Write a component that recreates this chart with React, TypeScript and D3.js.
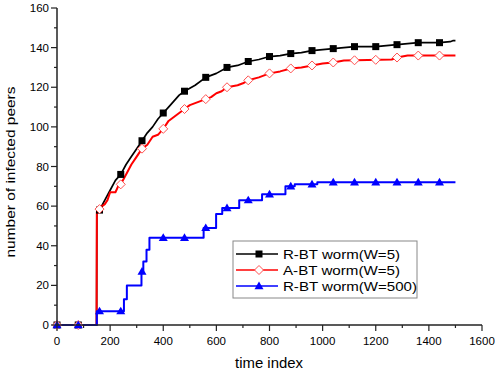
import React from 'react';
import * as d3 from 'd3';

// series: [time index, infected peers]
const rbtW5: [number, number][] = [
  [0, 0], [149, 0], [150, 57], [160, 58], [180, 63], [200, 68], [220, 73], [240, 76], [260, 81],
  [280, 85], [300, 89], [320, 93], [340, 97], [360, 100], [380, 104], [400, 107],
  [420, 110], [440, 113], [460, 116], [480, 118], [520, 121], [560, 125], [600, 127],
  [640, 130], [680, 131], [720, 133], [760, 134], [800, 135.5], [840, 136], [880, 137],
  [920, 137.5], [960, 138.5], [1000, 139], [1040, 139.5], [1080, 140], [1120, 140.5],
  [1200, 140.5], [1240, 141], [1280, 141.5], [1320, 142], [1360, 142.5], [1440, 142.5],
  [1480, 143], [1490, 143.5], [1500, 143.5],
];

const abtW5: [number, number][] = [
  [0, 0], [149, 0], [150, 57], [170, 60], [180, 61], [190, 63], [200, 67], [220, 67], [230, 70],
  [240, 71], [260, 76], [280, 81], [300, 85], [320, 89], [340, 91], [360, 95], [380, 96],
  [400, 99], [420, 103], [440, 105], [460, 107], [480, 109], [500, 111], [520, 112],
  [540, 113], [560, 114], [580, 115], [600, 117], [620, 118], [640, 120], [680, 121],
  [700, 122], [720, 123.5], [760, 125], [800, 127], [840, 128], [880, 129.5], [920, 130],
  [960, 131], [1000, 132], [1040, 132.5], [1080, 133.5], [1260, 134], [1280, 135],
  [1320, 136], [1500, 136],
];

const rbtW500: [number, number][] = [
  [0, 0], [150, 7], [252, 13], [263, 20], [318, 27], [325, 32], [337, 38], [348, 44],
  [552, 49], [599, 56], [622, 59], [686, 63], [772, 66], [860, 70], [895, 71],
  [980, 72], [1500, 72],
];

const xTicks = [0, 200, 400, 600, 800, 1000, 1200, 1400, 1600];
const yTicks = [0, 20, 40, 60, 80, 100, 120, 140, 160];
const markerStep = 80;

const series = [
  { name: 'R-BT worm(W=5)', data: rbtW5, color: '#000000', marker: 'square', step: false, len: 117 },
  { name: 'A-BT worm(W=5)', data: abtW5, color: '#ff0000', marker: 'diamond', step: false, len: 117 },
  { name: 'R-BT worm(W=500)', data: rbtW500, color: '#0000ff', marker: 'triangle', step: true, len: 134 },
];

const W = 495;
const H = 377;
const margin = { left: 57, right: 13, top: 8, bottom: 52 };

function valueAt(data: [number, number][], x: number) {
  // linear lookup between points (step series have duplicated corners anyway)
  let v = data[0][1];
  for (const [px, py] of data) {
    if (px <= x) v = py;
  }
  return v;
}

function Marker({ type, x, y, color }: { type: string; x: number; y: number; color: string }) {
  if (type === 'square') {
    return <rect x={x - 3.5} y={y - 3.5} width={7} height={7} fill={color} />;
  }
  if (type === 'diamond') {
    const r = 4.5;
    return (
      <path
        d={`M${x},${y - r}L${x + r},${y}L${x},${y + r}L${x - r},${y}Z`}
        fill="#fff"
        stroke="#ff5050"
        strokeWidth={1}
      />
    );
  }
  const r = 4.5;
  return (
    <path
      d={`M${x},${y - r}L${x + r},${y + r * 0.7}L${x - r},${y + r * 0.7}Z`}
      fill={color}
    />
  );
}

export default function App() {
  const x = d3.scaleLinear().domain([0, 1600]).range([margin.left, W - margin.right]);
  const y = d3.scaleLinear().domain([0, 160]).range([H - margin.bottom, margin.top]);
  const lineStep = d3
    .line<[number, number]>()
    .x(d => x(d[0]))
    .y(d => y(d[1]))
    .curve(d3.curveStepAfter);
  const lineLin = d3
    .line<[number, number]>()
    .x(d => x(d[0]))
    .y(d => y(d[1]));

  const markerXs = d3.range(0, 1500, markerStep);
  const yMinor = d3.range(10, 160, 20);
  const xMinor = d3.range(100, 1600, 200);
  const font = 'Liberation Sans, Arial, sans-serif';
  const axisY = H - margin.bottom;

  const lgX = 233;
  const lgY = 241;

  return (
    <svg width={W} height={H} style={{ position: 'absolute', left: 0, top: 0, background: '#fff' }} fontFamily={font}>
      {series.map(s => (
        <path
          key={s.name}
          d={(s.step ? lineStep(s.data) : lineLin(s.data)) || ''}
          fill="none"
          stroke={s.color}
          strokeWidth={s.marker === 'square' ? 1.7 : 2}
          strokeLinejoin="round"
        />
      ))}
      {series.map(s =>
        markerXs.map(mx => {
          const lin = !s.step && mx > 150;
          const i = d3.bisector((d: [number, number]) => d[0]).left(s.data, mx);
          let v = valueAt(s.data, mx);
          if (lin && i > 0 && i < s.data.length) {
            const a = s.data[i - 1];
            const b = s.data[i];
            v = b[0] === mx ? b[1] : a[1] + ((b[1] - a[1]) * (mx - a[0])) / (b[0] - a[0]);
          }
          return <Marker key={s.name + mx} type={s.marker} x={x(mx)} y={y(v)} color={s.color} />;
        })
      )}

      {/* axes */}
      <line x1={margin.left} x2={margin.left} y1={margin.top} y2={axisY} stroke="#222" strokeWidth={1.5} />
      <line x1={margin.left} x2={W - margin.right} y1={axisY} y2={axisY} stroke="#222" strokeWidth={1.5} />
      {yTicks.map(t => (
        <g key={'y' + t}>
          <line x1={margin.left - 6} x2={margin.left} y1={y(t)} y2={y(t)} stroke="#222" strokeWidth={1.2} />
          <text x={margin.left - 8} y={y(t)} dy="0.35em" textAnchor="end" fontSize={11.5}>{t}</text>
        </g>
      ))}
      {yMinor.map(t => (
        <line key={'ym' + t} x1={margin.left - 3} x2={margin.left} y1={y(t)} y2={y(t)} stroke="#222" strokeWidth={1.2} />
      ))}
      {xTicks.map(t => (
        <g key={'x' + t}>
          <line x1={x(t)} x2={x(t)} y1={axisY} y2={axisY + 6} stroke="#222" strokeWidth={1.2} />
          <text x={x(t)} y={axisY + 20} textAnchor="middle" fontSize={11.5}>{t}</text>
        </g>
      ))}
      {xMinor.map(t => (
        <line key={'xm' + t} x1={x(t)} x2={x(t)} y1={axisY} y2={axisY + 3} stroke="#222" strokeWidth={1.2} />
      ))}
      <text x={269} y={H - 9} textAnchor="middle" fontSize={14} textLength={68} lengthAdjust="spacingAndGlyphs">time index</text>
      <text
        transform={`translate(15,172) rotate(-90)`}
        textAnchor="middle"
        fontSize={13}
        textLength={171}
        lengthAdjust="spacingAndGlyphs"
      >
        number of infected peers
      </text>

      {/* legend */}
      <rect x={lgX} y={lgY} width={184} height={57} fill="#fff" stroke="#888" strokeWidth={1} />
      {series.map((s, i) => {
        const ry = lgY + 13 + i * 16;
        return (
          <g key={'lg' + s.name}>
            <line x1={lgX + 3} x2={lgX + 45} y1={ry} y2={ry} stroke={s.color} strokeWidth={1.6} />
            <Marker type={s.marker} x={lgX + 26} y={ry} color={s.color} />
            <text x={lgX + 50} y={ry} dy="0.36em" fontSize={13} textLength={s.len} lengthAdjust="spacingAndGlyphs">
              {s.name}
            </text>
          </g>
        );
      })}
    </svg>
  );
}
